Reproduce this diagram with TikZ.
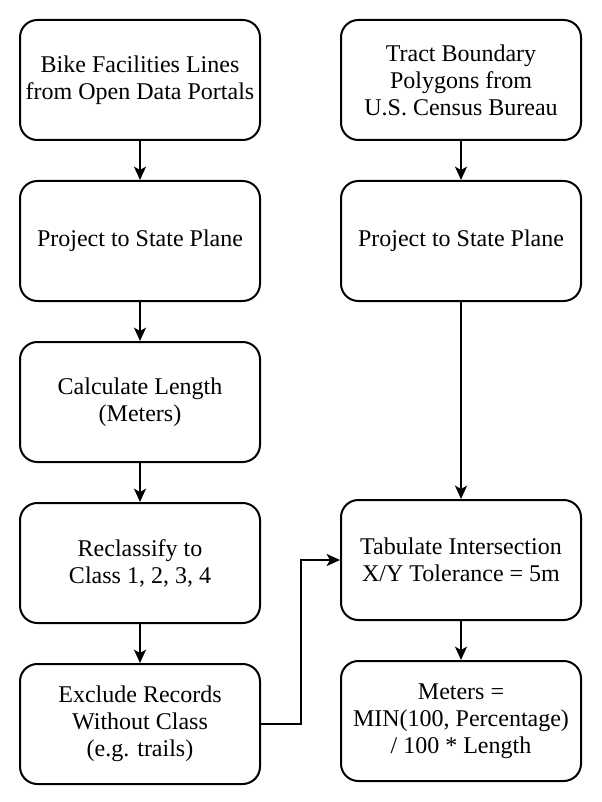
\documentclass[tikz,border=0pt]{standalone}
\usepackage{fontspec}
\setmainfont{Liberation Serif}
\usetikzlibrary{positioning,arrows.meta}
\begin{document}
\begin{tikzpicture}[x=0.75pt, y=0.75pt,
        main/.style = {draw, line width=1.5pt, rounded corners=13pt, align=center,
            minimum width=180pt, minimum height=90pt,
            font=\fontsize{18}{20.25}\selectfont},
        flow/.style = {-{Stealth[length=10pt,width=9pt,inset=2.5pt]}, line width=1.5pt},
        node distance=29.25pt]
        \useasboundingbox (0,0) rectangle (602,-802);
        \node[main] (bike) at (140,-80) {Bike Facilities Lines\\from Open Data Portals};
        \node[main] (lproj) [below=of bike] {Project to State Plane};
        \node[main] (length) [below=of lproj] {Calculate Length\\(Meters)};
        \node[main] (reclass) [below=of length] {Reclassify to\\Class 1, 2, 3, 4};
        \node[main] (exclude) [below=of reclass] {Exclude Records\\Without Class\\(e.g. trails)};
        \node[main] (tract) at (461,-80) {Tract Boundary\\Polygons from\\U.S. Census Bureau};
        \node[main] (rproj) [below=of tract] {Project to State Plane};
        \node[main] (tab) at (461,-560) {Tabulate Intersection\\X/Y Tolerance = 5m};
        \node[main] (meters) [below=of tab] {Meters =\\MIN(100, Percentage)\\/ 100 * Length};
        \draw[flow] (bike) -- (lproj);
        \draw[flow] (lproj) -- (length);
        \draw[flow] (length) -- (reclass);
        \draw[flow] (reclass) -- (exclude);
        \draw[flow] (tract) -- (rproj);
        \draw[flow] (rproj) -- (tab);
        \draw[flow] (tab) -- (meters);
        \draw[flow] (exclude.east) -- ++(40,0) |- (tab.west);
    \end{tikzpicture}
\end{document}
